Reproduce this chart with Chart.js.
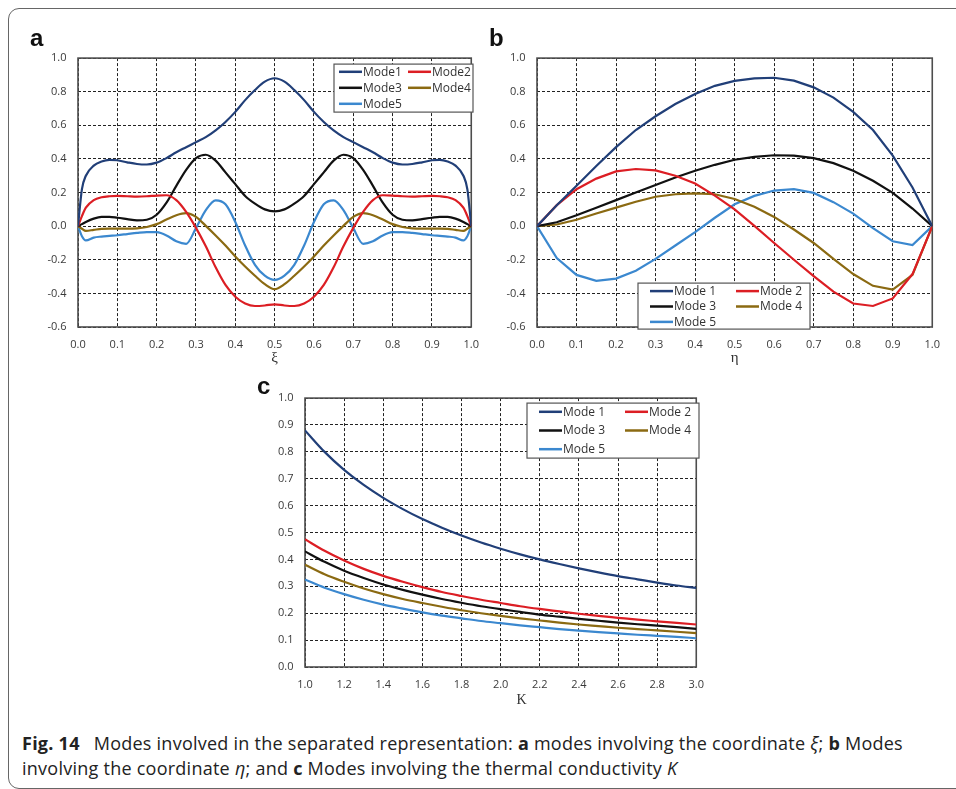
<!DOCTYPE html>
<html>
<head>
<meta charset="utf-8">
<script src="https://cdn.jsdelivr.net/npm/chart.js@4.4.1/dist/chart.umd.min.js"></script>
<style>
  html, body { margin: 0; padding: 0; background: #fff; }
  body { width: 956px; height: 789px; position: relative; overflow: hidden; }
  #marco { position: absolute; left: 8px; top: 8px; width: 990px; height: 779px;
           border: 1.5px solid #666; border-radius: 11px; }
  canvas { position: absolute; }
  .letra { position: absolute; font: bold 24px "Liberation Sans", Arial, sans-serif; line-height: 24px; color: #111; }
  #pie { position: absolute; left: 22px; top: 731px; font: 18px "Open Sans", sans-serif; line-height: 25px;
         letter-spacing: 0.25px; color: #222; white-space: nowrap; }
  #pie b { font-weight: 700; }
</style>
</head>
<body>
<div id="marco"></div>
<canvas id="graficoA" width="470" height="335" style="left:20px;top:40px"></canvas>
<canvas id="graficoB" width="466" height="335" style="left:485px;top:40px"></canvas>
<canvas id="graficoC" width="465" height="330" style="left:250px;top:380px"></canvas>
<div class="letra" style="left:30px;top:26px">a</div>
<div class="letra" style="left:489px;top:26px">b</div>
<div class="letra" style="left:257px;top:374px">c</div>
<div id="pie"><b>Fig. 14</b><span style="display:inline-block;width:14px"></span>Modes involved in the separated representation: <b>a</b> modes involving the coordinate <i>ξ</i>; <b>b</b> Modes<br>involving the coordinate <i>η</i>; and <b>c</b> Modes involving the thermal conductivity <i>K</i></div>

<script>
// ---- Datos ----

// (a) modos en funcion de xi
const xiA = [0, 0.01, 0.02, 0.04, 0.06, 0.08, 0.1, 0.125, 0.15, 0.175, 0.2, 0.225, 0.25, 0.275, 0.3, 0.325, 0.35, 0.375, 0.4, 0.425, 0.45, 0.475, 0.5,
             0.525, 0.55, 0.575, 0.6, 0.625, 0.65, 0.675, 0.7, 0.725, 0.75, 0.775, 0.8, 0.825, 0.85, 0.875, 0.9, 0.92, 0.94, 0.96, 0.98, 0.99, 1];
const modo1A = [0, 0.22, 0.30, 0.36, 0.385, 0.395, 0.392, 0.38, 0.37, 0.367, 0.378, 0.405, 0.44, 0.47, 0.50, 0.53, 0.57, 0.62, 0.68, 0.75, 0.81, 0.86, 0.88,
                0.86, 0.81, 0.75, 0.68, 0.62, 0.57, 0.53, 0.50, 0.47, 0.44, 0.405, 0.378, 0.367, 0.37, 0.38, 0.392, 0.395, 0.385, 0.36, 0.30, 0.22, 0];
const modo2A = [0, 0.06, 0.11, 0.155, 0.172, 0.178, 0.18, 0.178, 0.176, 0.178, 0.182, 0.184, 0.155, 0.085, -0.01, -0.12, -0.245, -0.35, -0.42, -0.46, -0.475, -0.472, -0.465,
                -0.472, -0.475, -0.46, -0.42, -0.35, -0.245, -0.12, -0.01, 0.085, 0.155, 0.184, 0.182, 0.178, 0.176, 0.178, 0.18, 0.178, 0.172, 0.155, 0.11, 0.06, 0];
const modo3A = [0, 0.012, 0.025, 0.045, 0.055, 0.055, 0.05, 0.042, 0.034, 0.038, 0.068, 0.14, 0.24, 0.335, 0.405, 0.425, 0.39, 0.32, 0.25, 0.18, 0.134, 0.10, 0.088,
                0.10, 0.134, 0.18, 0.25, 0.32, 0.39, 0.425, 0.405, 0.335, 0.24, 0.14, 0.068, 0.038, 0.034, 0.042, 0.05, 0.055, 0.055, 0.045, 0.025, 0.012, 0];
const modo4A = [0, -0.015, -0.028, -0.022, -0.016, -0.015, -0.015, -0.015, -0.013, -0.005, 0.012, 0.04, 0.065, 0.077, 0.055, 0.002, -0.055, -0.115, -0.18, -0.24, -0.295, -0.345, -0.375,
                -0.345, -0.295, -0.24, -0.18, -0.115, -0.055, 0.002, 0.055, 0.077, 0.065, 0.04, 0.012, -0.005, -0.013, -0.015, -0.015, -0.015, -0.016, -0.022, -0.028, -0.015, 0];
const modo5A = [0, -0.06, -0.085, -0.068, -0.062, -0.058, -0.054, -0.047, -0.04, -0.035, -0.036, -0.055, -0.09, -0.105, -0.012, 0.095, 0.153, 0.13, 0.025, -0.115, -0.23, -0.295, -0.32,
                -0.295, -0.23, -0.115, 0.025, 0.13, 0.153, 0.095, -0.012, -0.105, -0.09, -0.055, -0.036, -0.035, -0.04, -0.047, -0.054, -0.058, -0.062, -0.068, -0.085, -0.06, 0];

// (b) modos en funcion de eta
const etaB = [0, 0.05, 0.1, 0.15, 0.2, 0.25, 0.3, 0.35, 0.4, 0.45, 0.5, 0.55, 0.6, 0.65, 0.7, 0.75, 0.8, 0.85, 0.9, 0.95, 1];
const modo1B = [0, 0.125, 0.24, 0.358, 0.47, 0.572, 0.654, 0.727, 0.786, 0.835, 0.864, 0.879, 0.883, 0.866, 0.826, 0.765, 0.68, 0.572, 0.42, 0.23, 0];
const modo2B = [0, 0.125, 0.22, 0.283, 0.326, 0.34, 0.332, 0.30, 0.254, 0.182, 0.10, 0.002, -0.10, -0.20, -0.297, -0.39, -0.46, -0.475, -0.43, -0.285, 0];
const modo3B = [0, 0.023, 0.065, 0.11, 0.155, 0.20, 0.245, 0.29, 0.33, 0.365, 0.395, 0.412, 0.422, 0.42, 0.405, 0.375, 0.33, 0.27, 0.198, 0.105, 0];
const modo4B = [0, 0.01, 0.038, 0.075, 0.11, 0.145, 0.175, 0.19, 0.195, 0.19, 0.162, 0.115, 0.055, -0.02, -0.10, -0.195, -0.285, -0.355, -0.378, -0.29, 0];
const modo5B = [0, -0.19, -0.29, -0.325, -0.312, -0.265, -0.195, -0.115, -0.035, 0.05, 0.13, 0.18, 0.212, 0.22, 0.198, 0.143, 0.075, -0.012, -0.09, -0.113, 0];

// (c) modos en funcion de la conductividad K
const kC = [1.0, 1.1, 1.2, 1.3, 1.4, 1.5, 1.6, 1.7, 1.8, 1.9, 2.0, 2.1, 2.2, 2.3, 2.4, 2.5, 2.6, 2.7, 2.8, 2.9, 3.0];
const modo1C = [0.88, 0.80, 0.733, 0.677, 0.629, 0.587, 0.55, 0.518, 0.489, 0.463, 0.44, 0.419, 0.40, 0.383, 0.367, 0.352, 0.338, 0.326, 0.314, 0.303, 0.294];
const modo2C = [0.475, 0.432, 0.396, 0.365, 0.339, 0.317, 0.297, 0.279, 0.264, 0.25, 0.238, 0.226, 0.216, 0.207, 0.198, 0.19, 0.183, 0.176, 0.17, 0.164, 0.158];
const modo3C = [0.43, 0.391, 0.358, 0.331, 0.307, 0.287, 0.269, 0.253, 0.239, 0.226, 0.215, 0.205, 0.195, 0.187, 0.179, 0.172, 0.165, 0.159, 0.154, 0.148, 0.142];
const modo4C = [0.38, 0.345, 0.317, 0.292, 0.271, 0.253, 0.238, 0.224, 0.211, 0.20, 0.19, 0.181, 0.173, 0.165, 0.158, 0.152, 0.146, 0.141, 0.136, 0.131, 0.126];
const modo5C = [0.325, 0.295, 0.271, 0.25, 0.232, 0.217, 0.203, 0.191, 0.181, 0.171, 0.163, 0.155, 0.148, 0.141, 0.135, 0.13, 0.125, 0.12, 0.116, 0.112, 0.107];

// Etiquetas de la leyenda y de los ejes
const etiquetasA = ['Mode1', 'Mode2', 'Mode3', 'Mode4', 'Mode5'];
const etiquetasBC = ['Mode 1', 'Mode 2', 'Mode 3', 'Mode 4', 'Mode 5'];
const ticksX01 = [0, 0.1, 0.2, 0.3, 0.4, 0.5, 0.6, 0.7, 0.8, 0.9, 1.0];
const ticksYab = [-0.6, -0.4, -0.2, 0, 0.2, 0.4, 0.6, 0.8, 1.0];
const ticksK = [1.0, 1.2, 1.4, 1.6, 1.8, 2.0, 2.2, 2.4, 2.6, 2.8, 3.0];
const ticksYc = [0, 0.1, 0.2, 0.3, 0.4, 0.5, 0.6, 0.7, 0.8, 0.9, 1.0];

// Colores de cada modo
const colores = ['#213f78', '#dc1e24', '#111111', '#8b6a12', '#3b88cf'];

// Plugin: marco solido del area de trazado y leyenda dentro del grafico
const marcoYLeyenda = {
    id: 'marcoYLeyenda',
    beforeDatasetsDraw(chart) {
        const a = chart.chartArea;
        const ctx = chart.ctx;
        ctx.save();
        ctx.strokeStyle = '#4d4d4d';
        ctx.lineWidth = 1.6;
        ctx.strokeRect(a.left, a.top, a.right - a.left, a.bottom - a.top);
        ctx.restore();
    },
    afterDraw(chart, args, opts) {
        const a = chart.chartArea;
        const ctx = chart.ctx;
        const bx = a.left + opts.x;
        const by = a.top + opts.y;
        ctx.save();
        ctx.fillStyle = '#fff';
        ctx.fillRect(bx, by, opts.w, opts.h);
        ctx.strokeStyle = '#555';
        ctx.lineWidth = 1.2;
        ctx.strokeRect(bx, by, opts.w, opts.h);
        ctx.font = '12px "Open Sans", sans-serif';
        ctx.textBaseline = 'middle';
        ctx.fillStyle = '#333';
        chart.data.datasets.forEach((ds, i) => {
            const cx = bx + opts.cols[i % 2];
            const cy = by + opts.y0 + Math.floor(i / 2) * opts.dy;
            ctx.strokeStyle = ds.borderColor;
            ctx.lineWidth = 2.5;
            ctx.beginPath();
            ctx.moveTo(cx, cy);
            ctx.lineTo(cx + 23, cy);
            ctx.stroke();
            ctx.fillText(ds.label, cx + 24, cy + 0.5);
        });
        ctx.restore();
    }
};

function serie(xs, ys) {
    return xs.map((x, i) => ({ x: x, y: ys[i] }));
}

function ejeX(min, max, lista, titulo, tamTitulo, abajo, alto) {
    return {
        type: 'linear', min: min, max: max,
        afterBuildTicks: s => { s.ticks = lista.map(v => ({ value: v })); },
        afterFit: s => { s.height = alto; },
        grid: { color: '#222', lineWidth: 1, drawTicks: false },
        border: { display: false, dash: [3, 2] },
        ticks: { autoSkip: false, maxRotation: 0, padding: 11, color: '#3a3a3a',
                 font: { family: 'Open Sans', size: 11 }, callback: v => v.toFixed(1) },
        title: { display: true, text: titulo, color: '#333',
                 font: { family: 'Liberation Serif', size: tamTitulo }, padding: { top: 0, bottom: abajo } }
    };
}

function ejeY(min, max, lista, ancho) {
    return {
        type: 'linear', min: min, max: max,
        afterBuildTicks: s => { s.ticks = lista.map(v => ({ value: v })); },
        afterFit: s => { s.width = ancho; },
        grid: { color: '#222', lineWidth: 1, drawTicks: false },
        border: { display: false, dash: [3, 2] },
        ticks: { autoSkip: false, padding: 11.5, color: '#3a3a3a',
                 font: { family: 'Open Sans', size: 11 }, callback: v => v.toFixed(1) }
    };
}

function crearGrafico(id, xs, modos, etiquetas, tension, escalas, padding, leyenda) {
    let ctx = document.getElementById(id).getContext('2d');
    return new Chart(ctx, {
        type: 'line',
        data: {
            datasets: modos.map((m, i) => ({
                label: etiquetas[i],
                data: serie(xs, m),
                borderColor: colores[i],
                backgroundColor: colores[i],
                borderWidth: 2.2,
                pointRadius: 0,
                fill: false,
                tension: tension,
                cubicInterpolationMode: tension > 0 ? 'monotone' : 'default'
            }))
        },
        options: {
            responsive: false,
            animation: false,
            layout: { padding: padding },
            scales: escalas,
            plugins: {
                legend: { display: false },
                tooltip: { enabled: false },
                marcoYLeyenda: leyenda
            }
        },
        plugins: [marcoYLeyenda]
    });
}

// Grafico (a)
crearGrafico('graficoA', xiA, [modo1A, modo2A, modo3A, modo4A, modo5A], etiquetasA, 0.4,
    { x: ejeX(0, 1, ticksX01, 'ξ', 15, 8, 48), y: ejeY(-0.6, 1, ticksYab, 58) },
    { top: 13, right: 13, left: 0, bottom: 0 },
    { x: 256, y: 6, w: 139, h: 48, y0: 7.7, dy: 16, cols: [5, 74] });

// Grafico (b)
crearGrafico('graficoB', etaB, [modo1B, modo2B, modo3B, modo4B, modo5B], etiquetasBC, 0,
    { x: ejeX(0, 1, ticksX01, 'η', 15, 8, 48), y: ejeY(-0.6, 1, ticksYab, 52) },
    { top: 13, right: 15, left: 0, bottom: 0 },
    { x: 101, y: 225, w: 172, h: 46, y0: 8, dy: 15.4, cols: [12, 98] });

// Grafico (c): la K va algo a la derecha del centro, entre 2.0 y 2.2
crearGrafico('graficoC', kC, [modo1C, modo2C, modo3C, modo4C, modo5C], etiquetasBC, 0.3,
    { x: ejeX(1, 3, ticksK, '\u2003\u2003\u2003K', 14, 1.6, 43), y: ejeY(0, 1, ticksYc, 55) },
    { top: 14, right: 11, left: 0, bottom: 0 },
    { x: 222, y: 5, w: 172, h: 55, y0: 8.7, dy: 18.7, cols: [12, 98] });
</script>
</body>
</html>
